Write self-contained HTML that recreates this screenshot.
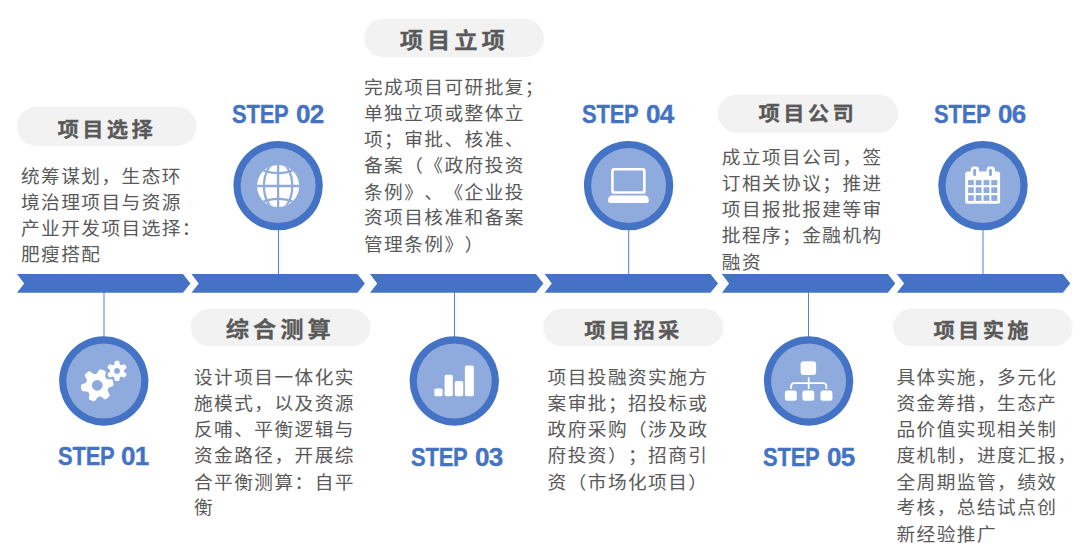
<!DOCTYPE html>
<html lang="zh-CN">
<head>
<meta charset="utf-8">
<title>项目流程</title>
<style>
html,body{margin:0;padding:0;background:#fff;}
body{text-spacing-trim:space-all;font-kerning:none;width:1080px;height:552px;position:relative;overflow:hidden;font-family:"Liberation Sans","Noto Sans CJK SC",sans-serif;}
#g{position:absolute;left:0;top:0;width:1080px;height:552px;}
.title{-webkit-text-stroke:0.3px #595959;transform-origin:0 0;transform:scaleY(0.945);position:absolute;color:#595959;font-weight:bold;font-size:21.33px;line-height:32px;letter-spacing:3.3px;white-space:nowrap;}
.title.big{font-size:23.3px;letter-spacing:3.95px;transform:scaleY(0.925);}
.body{transform-origin:0 0;transform:scaleY(0.945);position:absolute;color:#595959;font-size:18.67px;line-height:27.67195767195767px;letter-spacing:1.45px;white-space:nowrap;margin:0;}
.step{-webkit-text-stroke:0.35px #4472C4;position:absolute;color:#4472C4;font-weight:bold;font-size:25.3px;line-height:30px;height:30px;width:100px;white-space:nowrap;}
.step span{position:absolute;top:0;transform-origin:0 0;}
.step .w{left:0;transform:scaleX(0.867);letter-spacing:-0.22px;}
.step .n{left:63.5px;transform:scaleX(1.03);letter-spacing:-0.6px;}
</style>
</head>
<body>
<svg id="g" width="1080" height="552" viewBox="0 0 1080 552">

<rect x="17.0" y="107.0" width="179.50" height="38.90" rx="19.45" ry="19.45" fill="#F2F2F2"/>
<rect x="190.6" y="308.7" width="179.80" height="37.60" rx="18.80" ry="18.80" fill="#F2F2F2"/>
<rect x="364.3" y="18.9" width="179.60" height="38.30" rx="19.15" ry="19.15" fill="#F2F2F2"/>
<rect x="543.3" y="308.7" width="180.00" height="37.60" rx="18.80" ry="18.80" fill="#F2F2F2"/>
<rect x="717.8" y="94.6" width="180.20" height="38.20" rx="19.10" ry="19.10" fill="#F2F2F2"/>
<rect x="893.0" y="308.7" width="179.60" height="37.60" rx="18.80" ry="18.80" fill="#F2F2F2"/>
<polygon points="17.00,274.1 182.90,274.1 190.40,283.40 182.90,292.7 17.00,292.7 24.20,283.40" fill="#4472C4"/>
<polygon points="191.50,274.1 357.40,274.1 364.90,283.40 357.40,292.7 191.50,292.7 198.70,283.40" fill="#4472C4"/>
<polygon points="370.00,274.1 535.90,274.1 543.40,283.40 535.90,292.7 370.00,292.7 377.20,283.40" fill="#4472C4"/>
<polygon points="544.60,274.1 710.50,274.1 718.00,283.40 710.50,292.7 544.60,292.7 551.80,283.40" fill="#4472C4"/>
<polygon points="721.90,274.1 887.80,274.1 895.30,283.40 887.80,292.7 721.90,292.7 729.10,283.40" fill="#4472C4"/>
<polygon points="896.90,274.1 1062.80,274.1 1070.30,283.40 1062.80,292.7 896.90,292.7 904.10,283.40" fill="#4472C4"/>
<rect x="103.55" y="291.7" width="0.9" height="46.60" fill="#4472C4"/>
<rect x="278.05" y="228.30" width="0.9" height="46.80" fill="#4472C4"/>
<rect x="454.05" y="291.7" width="0.9" height="46.60" fill="#4472C4"/>
<rect x="628.25" y="228.30" width="0.9" height="46.80" fill="#4472C4"/>
<rect x="808.05" y="291.7" width="0.9" height="46.60" fill="#4472C4"/>
<rect x="982.55" y="228.30" width="0.9" height="46.80" fill="#4472C4"/>
<circle cx="103.8" cy="381.0" r="44.7" fill="#4472C4"/>
<circle cx="103.8" cy="381.0" r="37.5" fill="#8FAADC"/>
<g transform="translate(104.00,380.60)"><path d="M3.11,6.26 L8.02,4.13 L7.81,2.13 L7.32,0.18 L1.98,-0.15 L1.29,-1.22 L0.46,-2.20 L-0.48,-3.07 L0.13,-8.39 L-1.71,-9.21 L-3.64,-9.77 L-6.60,-5.30 L-7.87,-5.24 L-9.13,-5.02 L-10.35,-4.64 L-14.66,-7.82 L-16.28,-6.64 L-17.73,-5.24 L-15.34,-0.45 L-15.93,0.69 L-16.37,1.89 L-16.65,3.14 L-21.56,5.27 L-21.35,7.27 L-20.86,9.22 L-15.52,9.55 L-14.83,10.62 L-14.00,11.60 L-13.06,12.47 L-13.67,17.79 L-11.83,18.61 L-9.90,19.17 L-6.94,14.70 L-5.67,14.64 L-4.41,14.42 L-3.19,14.04 L1.12,17.22 L2.74,16.04 L4.19,14.64 L1.80,9.85 L2.39,8.71 L2.83,7.51Z" fill="#FFFFFF" stroke="#FFFFFF" stroke-width="3.0" stroke-linejoin="round"/><circle cx="-6.77" cy="4.7" r="5.4" fill="#8FAADC"/><path d="M18.92,-10.86 L21.56,-13.17 L21.00,-14.32 L20.28,-15.38 L16.97,-14.25 L16.36,-14.71 L15.69,-15.10 L14.98,-15.39 L14.31,-18.83 L13.03,-18.92 L11.75,-18.83 L11.08,-15.39 L10.37,-15.10 L9.70,-14.71 L9.09,-14.25 L5.78,-15.38 L5.06,-14.32 L4.50,-13.17 L7.14,-10.86 L7.04,-10.10 L7.04,-9.34 L7.14,-8.58 L4.50,-6.27 L5.06,-5.12 L5.78,-4.06 L9.09,-5.19 L9.70,-4.73 L10.37,-4.34 L11.08,-4.05 L11.75,-0.61 L13.03,-0.52 L14.31,-0.61 L14.98,-4.05 L15.69,-4.34 L16.36,-4.73 L16.97,-5.19 L20.28,-4.06 L21.00,-5.12 L21.56,-6.27 L18.92,-8.58 L19.02,-9.34 L19.02,-10.10Z" fill="#8FAADC" stroke="#8FAADC" stroke-width="4.6" stroke-linejoin="round"/><path d="M18.92,-10.86 L21.56,-13.17 L21.00,-14.32 L20.28,-15.38 L16.97,-14.25 L16.36,-14.71 L15.69,-15.10 L14.98,-15.39 L14.31,-18.83 L13.03,-18.92 L11.75,-18.83 L11.08,-15.39 L10.37,-15.10 L9.70,-14.71 L9.09,-14.25 L5.78,-15.38 L5.06,-14.32 L4.50,-13.17 L7.14,-10.86 L7.04,-10.10 L7.04,-9.34 L7.14,-8.58 L4.50,-6.27 L5.06,-5.12 L5.78,-4.06 L9.09,-5.19 L9.70,-4.73 L10.37,-4.34 L11.08,-4.05 L11.75,-0.61 L13.03,-0.52 L14.31,-0.61 L14.98,-4.05 L15.69,-4.34 L16.36,-4.73 L16.97,-5.19 L20.28,-4.06 L21.00,-5.12 L21.56,-6.27 L18.92,-8.58 L19.02,-9.34 L19.02,-10.10Z" fill="#FFFFFF" stroke="#FFFFFF" stroke-width="2.0" stroke-linejoin="round"/><circle cx="13.03" cy="-9.72" r="2.9" fill="#8FAADC"/></g>
<circle cx="278.1" cy="185.6" r="44.7" fill="#4472C4"/>
<circle cx="278.1" cy="185.6" r="37.5" fill="#8FAADC"/>
<g transform="translate(278.10,186.00)"><clipPath id="gc"><circle cx="0" cy="0" r="21.1"/></clipPath><circle cx="0" cy="0" r="21.1" fill="#FFFFFF"/><g clip-path="url(#gc)" fill="none" stroke="#8FAADC" stroke-width="2.3"><path d="M0,-22V22"/><path d="M-22,0H22"/><ellipse cx="0" cy="0" rx="14.15" ry="24"/><path d="M-18,-17Q0,-8.6 18,-17"/><path d="M-18,17Q0,8.6 18,17"/></g></g>
<circle cx="454.3" cy="381.0" r="44.7" fill="#4472C4"/>
<circle cx="454.3" cy="381.0" r="37.5" fill="#8FAADC"/>
<g transform="translate(454.30,380.60)"><rect x="-20.00" y="7.80" width="8.30" height="7.90" rx="1.8" ry="1.8" fill="#FFFFFF"/><rect x="-9.70" y="-5.80" width="8.20" height="21.50" rx="1.8" ry="1.8" fill="#FFFFFF"/><rect x="0.45" y="0.50" width="8.50" height="15.20" rx="1.8" ry="1.8" fill="#FFFFFF"/><rect x="10.60" y="-15.00" width="8.90" height="30.70" rx="1.8" ry="1.8" fill="#FFFFFF"/></g>
<circle cx="628.6" cy="185.6" r="44.7" fill="#4472C4"/>
<circle cx="628.6" cy="185.6" r="37.5" fill="#8FAADC"/>
<g transform="translate(628.70,185.50)"><rect x="-17.55" y="-17.60" width="34.50" height="25.90" rx="2.9" ry="2.9" fill="#FFFFFF"/><rect x="-14.95" y="-15.00" width="29.30" height="20.70" rx="1.1" ry="1.1" fill="#8FAADC"/><path d="M-17.35,9.9 L16.75,9.9 Q18.75,9.9 19.85,13.10 Q20.95,17.6 17.55,17.6 L-18.15,17.6 Q-21.55,17.6 -20.45,13.10 Q-19.35,9.9 -17.35,9.9Z" fill="#FFFFFF"/></g>
<circle cx="808.6" cy="381.0" r="44.7" fill="#4472C4"/>
<circle cx="808.6" cy="381.0" r="37.5" fill="#8FAADC"/>
<g transform="translate(808.50,380.60)"><rect x="-7.9" y="-19.3" width="15.5" height="13.8" rx="3" ry="3" fill="#FFFFFF"/><path d="M0.2,-3.4V8.4M-17.3,8.3V5.4Q-17.3,2.4 -14.3,2.4H14.8Q17.8,2.4 17.8,5.4V8.3" fill="none" stroke="#FFFFFF" stroke-width="1.75"/><rect x="-23.6" y="10" width="11.9" height="10.2" rx="2.2" ry="2.2" fill="#FFFFFF"/><rect x="-6.1" y="10" width="11.9" height="10.2" rx="2.2" ry="2.2" fill="#FFFFFF"/><rect x="12.0" y="10" width="11.9" height="10.2" rx="2.2" ry="2.2" fill="#FFFFFF"/></g>
<circle cx="983.0" cy="185.6" r="44.7" fill="#4472C4"/>
<circle cx="983.0" cy="185.6" r="37.5" fill="#8FAADC"/>
<g transform="translate(983.00,185.50)"><rect x="-17.8" y="-13.9" width="34.9" height="32.2" rx="2.6" ry="2.6" fill="#FFFFFF"/><rect x="-12.2" y="-19.1" width="8.3" height="12" rx="3.2" ry="3.2" fill="#FFFFFF"/><rect x="3.6" y="-19.1" width="8.3" height="12" rx="3.2" ry="3.2" fill="#FFFFFF"/><rect x="-9.85" y="-16.6" width="2.95" height="7.1" rx="1.2" ry="1.2" fill="#8FAADC"/><rect x="6.0" y="-16.6" width="2.95" height="7.1" rx="1.2" ry="1.2" fill="#8FAADC"/><rect x="-14.9" y="-5.4" width="5.70" height="5.10" fill="#8FAADC"/><rect x="-14.9" y="1.8" width="5.70" height="5.70" fill="#8FAADC"/><rect x="-14.9" y="9.7" width="5.70" height="5.70" fill="#8FAADC"/><rect x="-7.3" y="-5.4" width="5.80" height="5.10" fill="#8FAADC"/><rect x="-7.3" y="1.8" width="5.80" height="5.70" fill="#8FAADC"/><rect x="-7.3" y="9.7" width="5.80" height="5.70" fill="#8FAADC"/><rect x="0.6" y="-5.4" width="5.80" height="5.10" fill="#8FAADC"/><rect x="0.6" y="1.8" width="5.80" height="5.70" fill="#8FAADC"/><rect x="0.6" y="9.7" width="5.80" height="5.70" fill="#8FAADC"/><rect x="8.3" y="-5.4" width="6.00" height="5.10" fill="#8FAADC"/><rect x="8.3" y="1.8" width="6.00" height="5.70" fill="#8FAADC"/><rect x="8.3" y="9.7" width="6.00" height="5.70" fill="#8FAADC"/></g>
</svg>
<div class="title" id="t1" style="left:57.50px;top:114.75px;">项目选择</div>
<div class="title big" id="t2" style="left:225.80px;top:315.00px;">综合测算</div>
<div class="title big" id="t3" style="left:399.80px;top:26.10px;">项目立项</div>
<div class="title" id="t4" style="left:584.20px;top:315.55px;">项目招采</div>
<div class="title" id="t5" style="left:758.60px;top:99.15px;">项目公司</div>
<div class="title" id="t6" style="left:933.40px;top:315.55px;">项目实施</div>
<p class="body" id="b1" style="left:21.00px;top:164.00px;">统筹谋划，生态环<br>境治理项目与资源<br>产业开发项目选择：<br>肥瘦搭配</p>
<p class="body" id="b2" style="left:194.00px;top:365.20px;">设计项目一体化实<br>施模式，以及资源<br>反哺、平衡逻辑与<br>资金路径，开展综<br>合平衡测算：自平<br>衡</p>
<p class="body" id="b3" style="left:364.00px;top:74.60px;">完成项目可研批复；<br>单独立项或整体立<br>项；审批、核准、<br>备案（《政府投资<br>条例》、《企业投<br>资项目核准和备案<br>管理条例》）</p>
<p class="body" id="b4" style="left:547.60px;top:364.90px;">项目投融资实施方<br>案审批；招投标或<br>政府采购（涉及政<br>府投资）；招商引<br>资（市场化项目）</p>
<p class="body" id="b5" style="left:721.80px;top:145.40px;">成立项目公司，签<br>订相关协议；推进<br>项目报批报建等审<br>批程序；金融机构<br>融资</p>
<p class="body" id="b6" style="left:896.50px;top:365.00px;">具体实施，多元化<br>资金筹措，生态产<br>品价值实现相关制<br>度机制，进度汇报，<br>全周期监管，绩效<br>考核，总结试点创<br>新经验推广</p>
<div class="step" id="s1" style="left:57.70px;top:440.90px;"><span class="w">STEP</span> <span class="n">01</span></div>
<div class="step" id="s2" style="left:232.00px;top:98.60px;"><span class="w">STEP</span> <span class="n">02</span></div>
<div class="step" id="s3" style="left:411.10px;top:442.20px;"><span class="w">STEP</span> <span class="n">03</span></div>
<div class="step" id="s4" style="left:582.30px;top:98.60px;"><span class="w">STEP</span> <span class="n">04</span></div>
<div class="step" id="s5" style="left:763.30px;top:442.20px;"><span class="w">STEP</span> <span class="n">05</span></div>
<div class="step" id="s6" style="left:934.30px;top:98.60px;"><span class="w">STEP</span> <span class="n">06</span></div>
</body>
</html>
